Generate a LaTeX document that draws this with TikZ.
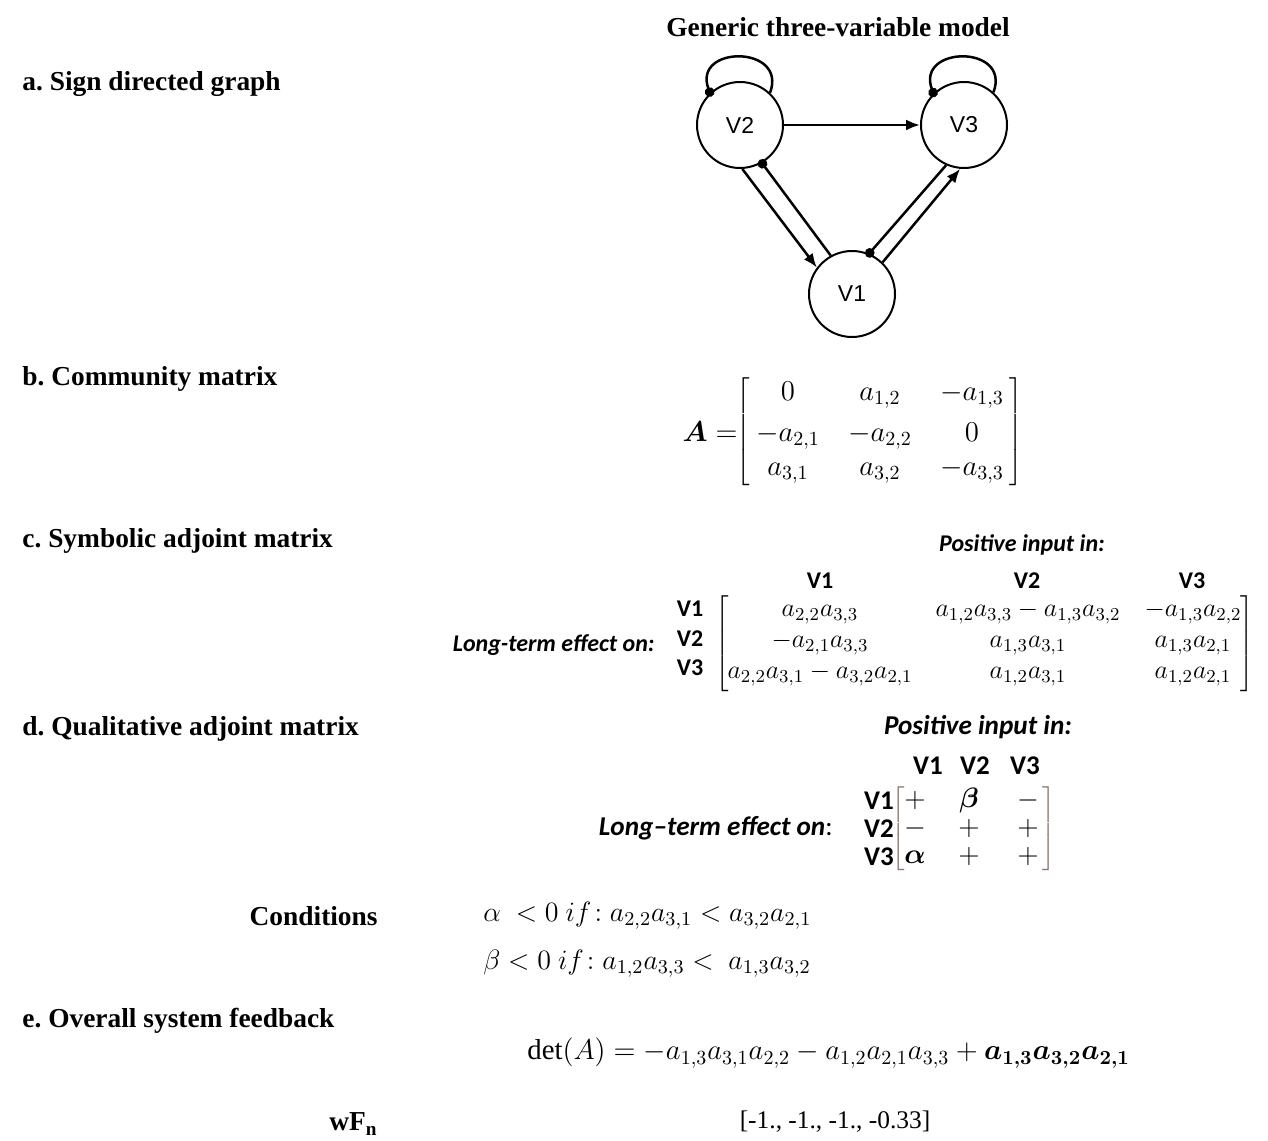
\RequirePackage{fix-cm}
\documentclass[tikz,border=0pt]{standalone}
\usepackage{amsmath,amssymb}
\usepackage{fontspec}
\setmainfont{Liberation Serif}
\setsansfont{Liberation Sans}
\newfontfamily\calibri{Carlito}
\usepackage{xcolor}
\usetikzlibrary{positioning,arrows.meta,matrix}
\frenchspacing
\definecolor{qbrown}{RGB}{140,122,116}
\tikzset{
  >={Latex[length=7pt,width=5.5pt]},
  var/.style={circle,draw,line width=1pt,minimum size=43pt,inner sep=0pt,
    font=\sffamily\fontsize{11.5}{13}\selectfont},
  posedge/.style={->,line width=1.25pt},
  negedge/.style={-{Circle[length=4.8pt]},line width=1.25pt,shorten >=-2pt},
  heading/.style={anchor=west,inner sep=0pt,font=\bfseries\fontsize{13.7}{16}\selectfont},
  sidelab/.style={anchor=east,inner sep=0pt,font=\bfseries\fontsize{13.7}{16}\selectfont},
  vlabc/.style={inner sep=0pt,font=\calibri\bfseries\fontsize{12}{14}\selectfont},
  vlabd/.style={inner sep=0pt,font=\calibri\bfseries\fontsize{13.5}{15}\selectfont},
  inlabc/.style={inner sep=0pt,font=\calibri\bfseries\itshape\fontsize{12}{14}\selectfont},
  inlabd/.style={inner sep=0pt,font=\calibri\bfseries\itshape\fontsize{13.6}{15}\selectfont},
  eqn/.style={anchor=west,inner sep=0pt,font=\fontsize{14}{16}\selectfont},
  every delimiter/.style={inner sep=0pt},
  every left delimiter/.style={xshift=2.5pt},
  every right delimiter/.style={xshift=-2.5pt},
  mathmat/.style={matrix of math nodes,inner sep=0pt,
    left delimiter={[},right delimiter={]}},
}

\begin{document}
\begin{tikzpicture}[x=0.5pt,y=-0.5pt]
\useasboundingbox (0,0) rectangle (1268,1140);

\node[font=\bfseries\fontsize{13.7}{16}\selectfont] (title) at (838,27) {Generic three-variable model};

% a. sign directed graph
\node[heading] (secA) at (22,84) {a. Sign directed graph};
\node[var] (V2) at (740,125) {V2};
\node[var] (V3) at (964,125) {V3};
\node[var] (V1) at (852,294) {V1};

\draw[posedge] (V2) -- (V3);
\draw[posedge] (V2.-87) -- (V1.143);
\draw[negedge] (V1.119) -- (V2.-60);
\draw[negedge] (V3.-114) -- (V1.67);
\draw[posedge] (V1.46) -- (V3.-95);
\draw[negedge] (V2.47) .. controls +(18,-48) and +(-18,-48) .. (V2.133);
\draw[negedge] (V3.48) .. controls +(18,-48) and +(-18,-48) .. (V3.134);

% b. community matrix
\node[heading] (secB) at (22,379) {b. Community matrix};
\matrix (Amat) [mathmat,
  nodes={minimum width=40pt,minimum height=17pt,inner sep=0pt,
    font=\fontsize{14.4}{17}\selectfont},
  column sep=6pt] at (880,432) {
  0 & a_{1,2} & -a_{1,3} \\
  -a_{2,1} & -a_{2,2} & 0 \\
  a_{3,1} & a_{3,2} & -a_{3,3} \\
};
\node[anchor=east,inner sep=0pt,font=\fontsize{14.4}{17}\selectfont] (Alab) at (738,432) {$\boldsymbol{A} =$};

% c. symbolic adjoint
\node[heading] (secC) at (22,541) {c. Symbolic adjoint matrix};
\node[inlabc] (posC) at (1022,545) {Positive input in:};
\matrix (Sadj) [mathmat,
  nodes={minimum height=14.5pt,inner sep=0pt,font=\fontsize{13}{15}\selectfont},
  column sep=10pt,
  column 1/.style={minimum width=93pt},
  column 2/.style={minimum width=95pt},
  column 3/.style={minimum width=50pt}] at (985,645) {
  a_{2,2}a_{3,3} & a_{1,2}a_{3,3}-a_{1,3}a_{3,2} & -a_{1,3}a_{2,2} \\
  -a_{2,1}a_{3,3} & a_{1,3}a_{3,1} & a_{1,3}a_{2,1} \\
  a_{2,2}a_{3,1}-a_{3,2}a_{2,1} & a_{1,2}a_{3,1} & a_{1,2}a_{2,1} \\
};
\node[vlabc] (hC1) at (820,581) {V1};
\node[vlabc] (hC2) at (1027,581) {V2};
\node[vlabc] (hC3) at (1192,581) {V3};
\node[vlabc] (rC1) at (690,609) {V1};
\node[vlabc] (rC2) at (690,639) {V2};
\node[vlabc] (rC3) at (690,668) {V3};
\node[inlabc,anchor=east] (effC) at (655,645) {Long-term effect on:};

% d. qualitative adjoint
\node[heading] (secD) at (22,729) {d. Qualitative adjoint matrix};
\node[inlabd] (posD) at (978,727) {Positive input in:};
\begin{scope}[every delimiter/.append style={text=qbrown}]
\matrix (Qadj) [mathmat,
  nodes={minimum height=14pt,inner sep=0pt,font=\fontsize{14}{16}\selectfont},
  column sep=2pt,
  column 1/.style={minimum width=12pt},
  column 2/.style={minimum width=38pt},
  column 3/.style={minimum width=17pt}] at (974,829) {
  + & \boldsymbol{\beta} & - \\
  - & + & + \\
  \boldsymbol{\alpha} & + & + \\
};
\end{scope}
\node[vlabd] (hD1) at (928,766) {V1};
\node[vlabd] (hD2) at (975,766) {V2};
\node[vlabd] (hD3) at (1025,766) {V3};
\node[vlabd] (rD1) at (879,801) {V1};
\node[vlabd] (rD2) at (879,829) {V2};
\node[vlabd] (rD3) at (879,857) {V3};
\node[inlabd,anchor=east] (effD) at (833,828) {Long–term effect on{\upshape\mdseries:}};

% conditions
\node[sidelab] (cond) at (378,916) {Conditions};
\node[eqn] (condA) at (483,916) {$\alpha\ <0\ if\!: a_{2,2}a_{3,1}<a_{3,2}a_{2,1}$};
\node[eqn] (condB) at (483,964) {$\beta<0\ if\!: a_{1,2}a_{3,3}<\ a_{1,3}a_{3,2}$};

% e. overall feedback
\node[heading] (secE) at (22,1021) {e. Overall system feedback};
\node[eqn,font=\fontsize{14.4}{17}\selectfont] (detA) at (527,1053)
  {$\det(A)=-a_{1,3}a_{3,1}a_{2,2}-a_{1,2}a_{2,1}a_{3,3}+\boldsymbol{a_{1,3}a_{3,2}a_{2,1}}$};
\node[sidelab] (wfn) at (378,1124) {wF$_{\mathbf{n}}$};
\node[font=\fontsize{12.7}{15}\selectfont] (wfval) at (835,1122) {[-1., -1., -1., -0.33]};
\end{tikzpicture}
\end{document}
